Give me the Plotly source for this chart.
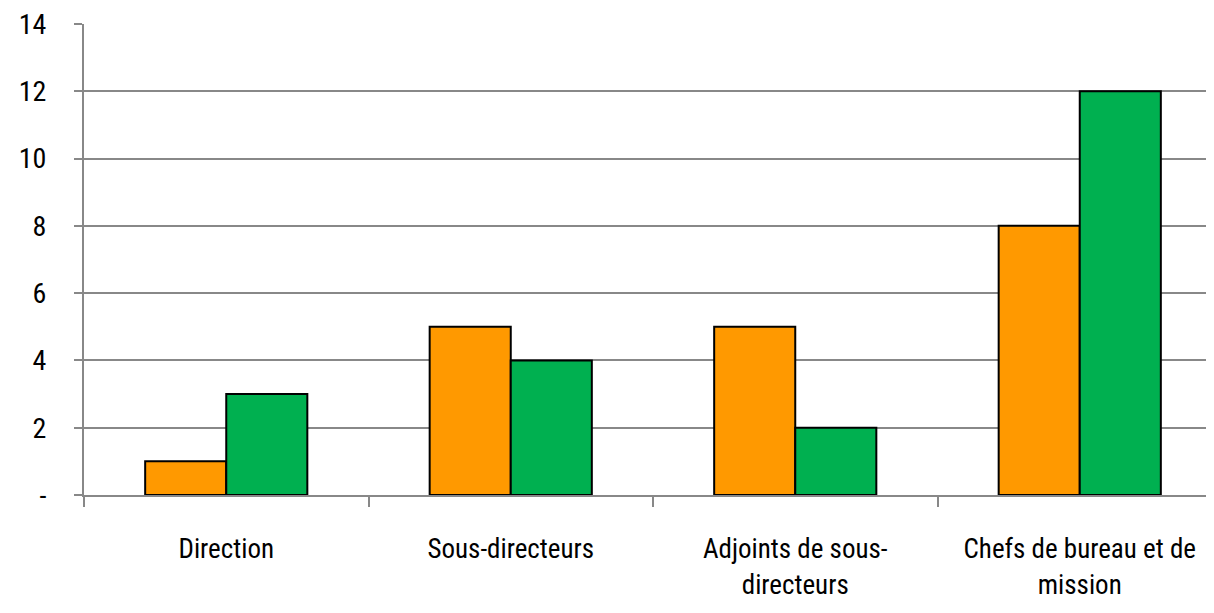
import plotly.graph_objects as go

categories = ["Direction", "Sous-directeurs", "Adjoints de sous-<br>directeurs", "Chefs de bureau et de<br>mission"]
series_a = [1, 5, 5, 8]
series_b = [3, 4, 2, 12]
y_ticks = [0, 2, 4, 6, 8, 10, 12, 14]
y_tick_labels = ["-", "2", "4", "6", "8", "10", "12", "14"]

FONT = "Liberation Sans Narrow, Roboto Condensed, Arial Narrow, sans-serif"

fig = go.Figure()
fig.add_trace(go.Bar(x=categories, y=series_a, marker=dict(color="#FF9900", line=dict(color="black", width=2))))
fig.add_trace(go.Bar(x=categories, y=series_b, marker=dict(color="#00B050", line=dict(color="black", width=2))))

fig.update_layout(
    width=1214, height=613,
    margin=dict(l=76, r=0, t=16, b=126),
    paper_bgcolor="white", plot_bgcolor="white",
    showlegend=False,
    barmode="group", bargap=0.43, bargroupgap=0,
    font=dict(family=FONT, size=27, color="black"),
)
fig.update_xaxes(
    type="category", range=[-0.5, 3.5], automargin=False,
    showline=True, linecolor="#888888", linewidth=2,
    ticks="outside", tickson="boundaries", ticklen=10, tickcolor="#888888", tickwidth=2,
    showgrid=False, ticklabelstandoff=29, ticklabeloverflow="allow",
    tickfont=dict(family=FONT, size=27, color="black"),
)
fig.update_yaxes(
    range=[0, 14], tickvals=y_ticks, ticktext=y_tick_labels, automargin=False,
    showgrid=True, gridcolor="#888888", gridwidth=2,
    showline=True, linecolor="#888888", linewidth=2,
    ticks="outside", ticklen=8, tickcolor="#888888", tickwidth=2,
    ticklabelstandoff=22, zeroline=False, ticklabeloverflow="allow",
    tickfont=dict(family=FONT, size=28, color="black"),
)

fig.write_html("out.html")
